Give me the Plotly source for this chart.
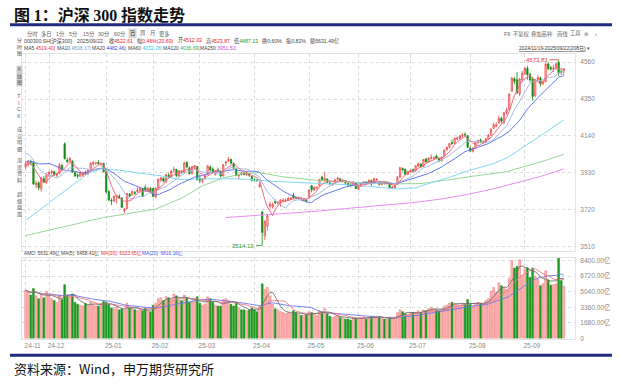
import pandas as pd
import plotly.graph_objects as go

W, H = 623, 385
FONT = "Liberation Sans, Noto Sans CJK SC, sans-serif"
CJK = "Noto Sans CJK SC"

# ---------------- data ----------------
holidays = ["2025-01-01", "2025-01-28", "2025-01-29", "2025-01-30", "2025-01-31",
            "2025-02-03", "2025-02-04", "2025-04-04", "2025-05-01", "2025-05-02",
            "2025-05-05", "2025-06-02"]
dates = [d.strftime("%Y-%m-%d") for d in pd.bdate_range("2024-11-19", "2025-09-22")
         if d.strftime("%Y-%m-%d") not in holidays]

opens = [
    3962, 3975, 3994, 3988, 3860, 3872, 3838, 3895, 3872,
    3915, 3930, 3935, 3915, 3925, 3970, 4095, 4002, 3992, 3995, 3930, 3915, 3910, 3915, 3930, 3925, 3945, 3980, 3985, 3988, 3978, 3982,
    3935, 3822, 3772, 3768, 3792, 3795, 3785, 3712, 3725, 3808, 3806, 3815, 3822, 3830, 3838, 3845, 3828, 3840,
    3840, 3792, 3838, 3888, 3898, 3880, 3915, 3905, 3945, 3948, 3910, 3938, 3930, 3988, 3958, 3925, 3962, 3965,
    3895, 3880, 3898, 3920, 3962, 3950, 3920, 3945, 3938, 3912, 3985, 3995, 4005, 3982, 3950, 3912, 3925, 3922, 3918, 3925, 3908,
    3890, 3890, 3850, 3705, 3570, 3625, 3740, 3735, 3765, 3755, 3755, 3770, 3770, 3772, 3782, 3800, 3788, 3782, 3784, 3772, 3775,
    3790, 3855, 3832, 3842, 3855, 3905, 3885, 3892, 3872, 3862, 3870, 3892, 3895, 3880, 3880, 3868, 3860, 3858, 3870,
    3835, 3852, 3868, 3876, 3878, 3885, 3868, 3890, 3875, 3862, 3875, 3868, 3872, 3845, 3842, 3865, 3905, 3955, 3948, 3920,
    3935, 3948, 3940, 3968, 3978, 3965, 4008, 3990, 4012, 4010, 4025, 4012, 3998, 4022, 4062, 4075, 4102, 4098, 4122, 4125, 4140, 4148, 4140,
    4070, 4052, 4072, 4102, 4115, 4102, 4105, 4122, 4148, 4182, 4195, 4215, 4240, 4218, 4270, 4288, 4395, 4465, 4460, 4380, 4460,
    4495, 4525, 4492, 4465, 4370, 4462, 4470, 4440, 4450, 4550, 4528, 4522, 4528, 4560, 4505, 4512.03,
]
highs = [
    3990, 4000, 4005, 3995, 3885, 3880, 3905, 3910, 3925,
    3940, 3945, 3940, 3930, 3985, 3980, 4102, 4015, 4020, 4000, 3940, 3925, 3935, 3935, 3942, 3950, 3988, 3995, 3992, 4002, 3990, 3988,
    3940, 3832, 3785, 3800, 3805, 3808, 3790, 3728, 3815, 3815, 3828, 3825, 3845, 3848, 3840, 3862, 3848, 3850,
    3842, 3845, 3895, 3905, 3902, 3922, 3928, 3945, 3965, 3952, 3945, 3945, 3992, 3995, 3965, 3968, 3975, 3968,
    3915, 3898, 3918, 3975, 3970, 3960, 3945, 3958, 3942, 3980, 3998, 4020, 4010, 3990, 3955, 3925, 3932, 3935, 3938, 3930, 3912,
    3900, 3895, 3875, 3712, 3660, 3695, 3765, 3760, 3778, 3768, 3780, 3785, 3782, 3790, 3792, 3815, 3795, 3795, 3790, 3782, 3780,
    3835, 3858, 3852, 3852, 3895, 3912, 3935, 3898, 3880, 3872, 3892, 3905, 3898, 3895, 3885, 3872, 3868, 3882, 3872,
    3858, 3872, 3882, 3882, 3892, 3890, 3900, 3898, 3880, 3878, 3880, 3882, 3875, 3855, 3862, 3910, 3962, 3958, 3955, 3940,
    3948, 3952, 3972, 3988, 3985, 4008, 4015, 4018, 4035, 4022, 4035, 4018, 4022, 4062, 4080, 4100, 4120, 4130, 4135, 4145, 4155, 4160, 4145,
    4080, 4075, 4108, 4118, 4125, 4115, 4128, 4150, 4185, 4215, 4218, 4255, 4250, 4275, 4300, 4382, 4475, 4475, 4505, 4470, 4510,
    4532, 4540, 4500, 4475, 4465, 4488, 4478, 4460, 4555, 4560, 4540, 4545, 4558, 4573.83, 4520, 4523.87,
]
lows = [
    3950, 3965, 3972, 3860, 3840, 3830, 3822, 3872, 3868,
    3905, 3920, 3912, 3905, 3920, 3940, 4005, 3985, 3988, 3930, 3905, 3895, 3905, 3905, 3918, 3915, 3940, 3968, 3975, 3975, 3965, 3932,
    3810, 3768, 3745, 3762, 3755, 3780, 3728, 3700, 3722, 3790, 3798, 3805, 3815, 3822, 3790, 3826, 3822, 3812,
    3790, 3785, 3832, 3878, 3875, 3870, 3895, 3900, 3932, 3905, 3905, 3925, 3925, 3955, 3918, 3920, 3945, 3885,
    3870, 3870, 3890, 3918, 3935, 3925, 3912, 3932, 3902, 3908, 3970, 3990, 3978, 3950, 3910, 3892, 3915, 3915, 3910, 3905, 3880,
    3880, 3878, 3845, 3514.13, 3545, 3600, 3725, 3725, 3750, 3745, 3735, 3765, 3765, 3768, 3775, 3782, 3778, 3778, 3768, 3765, 3760,
    3788, 3818, 3825, 3835, 3850, 3880, 3880, 3870, 3860, 3855, 3865, 3885, 3878, 3875, 3862, 3850, 3850, 3855, 3835,
    3830, 3848, 3862, 3865, 3872, 3855, 3865, 3882, 3855, 3858, 3862, 3860, 3838, 3835, 3838, 3862, 3900, 3938, 3915, 3915,
    3928, 3930, 3935, 3960, 3958, 3962, 3988, 3985, 4005, 4005, 4008, 3990, 3995, 4018, 4055, 4068, 4088, 4092, 4115, 4118, 4130, 4135, 4070,
    4048, 4045, 4068, 4095, 4098, 4095, 4100, 4118, 4140, 4180, 4190, 4210, 4215, 4205, 4262, 4285, 4392, 4435, 4380, 4368, 4450,
    4485, 4460, 4448, 4340, 4360, 4450, 4420, 4428, 4445, 4515, 4510, 4505, 4515, 4480, 4488, 4487.13,
]
closes = [
    3981, 3997, 3990, 3866, 3870, 3844, 3900, 3878, 3916,
    3931, 3937, 3920, 3925, 3973, 3948, 4010, 3995, 4010, 3933, 3912, 3910, 3931, 3929, 3925, 3945, 3983, 3988, 3986, 3982, 3982, 3935,
    3821, 3775, 3769, 3796, 3797, 3785, 3732, 3722, 3812, 3796, 3823, 3813, 3830, 3841, 3794, 3831, 3841, 3817,
    3795, 3842, 3892, 3901, 3883, 3919, 3906, 3939, 3947, 3912, 3941, 3933, 3985, 3963, 3925, 3964, 3969, 3890,
    3888, 3895, 3913, 3968, 3945, 3935, 3942, 3941, 3910, 3975, 3990, 4007, 3984, 3955, 3914, 3920, 3923, 3920, 3930, 3915, 3887,
    3888, 3885, 3862, 3589, 3650, 3686, 3750, 3750, 3760, 3762, 3773, 3773, 3773, 3785, 3784, 3787, 3786, 3786, 3776, 3775, 3770,
    3831, 3833, 3846, 3846, 3891, 3890, 3897, 3875, 3868, 3868, 3889, 3900, 3882, 3883, 3870, 3860, 3855, 3876, 3840,
    3852, 3868, 3877, 3874, 3885, 3865, 3895, 3892, 3864, 3873, 3870, 3875, 3843, 3846, 3857, 3904, 3960, 3946, 3921, 3936,
    3943, 3943, 3969, 3982, 3965, 4005, 3991, 4013, 4014, 4017, 4014, 4000, 4019, 4058, 4073, 4096, 4095, 4127, 4127, 4139, 4145, 4146, 4075,
    4054, 4071, 4103, 4113, 4105, 4104, 4122, 4144, 4176, 4203, 4202, 4239, 4223, 4271, 4288, 4378, 4469, 4451, 4386, 4463, 4497,
    4524, 4490, 4459, 4365, 4460, 4472, 4437, 4447, 4549, 4522, 4523, 4527, 4551, 4499, 4501.92, 4522.61,
]
# turnover (亿元)
volumes = [
    5200, 5000, 4700, 5400, 4600, 4300, 4800, 4400, 5100,
    4700, 4300, 4100, 3900, 4700, 4200, 5800, 4600, 4500, 4800, 3900, 3700, 3600, 3500, 3800, 3600, 4000, 3700, 3500, 3500, 3800, 4000,
    3900, 3700, 3300, 3200, 3400, 3100, 3200, 3100, 3800, 3300, 3300, 3100, 3000, 3100, 3000, 3300, 3000, 2900,
    3600, 3800, 4300, 4400, 4100, 4500, 4400, 4200, 4800, 4600, 4200, 4100, 4700, 4400, 3900, 4000, 4100, 4500,
    3800, 3600, 3700, 4500, 4300, 3900, 3600, 3500, 3500, 4200, 4300, 4100, 3700, 3500, 3900, 3300, 3100, 3100, 3000, 3100, 3300,
    3100, 2900, 3500, 5900, 5300, 5500, 4600, 3700, 3200, 3100, 2900, 2800, 2700, 2800, 2700, 3000, 2800, 2600, 2500, 2500, 2600,
    2900, 2800, 2700, 2500, 3000, 2900, 3200, 2700, 2400, 2300, 2400, 2500, 2300, 2200, 2100, 2100, 2000, 2300, 2200,
    2200, 2200, 2300, 2100, 2300, 2400, 2400, 2300, 2400, 2200, 2100, 2100, 2300, 2200, 2200, 2800, 3100, 2900, 2700, 2600,
    2700, 2800, 2800, 3000, 2800, 3100, 3000, 3200, 3400, 3200, 3100, 3000, 3100, 3500, 3600, 3800, 3900, 3800, 3700, 3600, 3800, 3700, 4200,
    3700, 3500, 3800, 3900, 3800, 3700, 4100, 4300, 5100, 5500, 5000, 6000, 5700, 5500, 5300, 6500, 8400, 7600, 7800, 8500, 6800,
    7500, 7600, 6600, 7600, 6700, 6400, 5700, 5900, 7300, 6300, 5750, 5800, 5900, 8700, 6250, 5631.49,
]
# closes of the 19 sessions before the first bar (feed the MA5/10/20 lines at the left edge)
prior_closes = [3985, 3969, 3956, 3973, 3939, 3910, 3891, 3870, 3927, 4036,
                4058, 4100, 4104, 4097, 4065, 4067, 3996, 3969, 3972]

# long moving averages where the window reaches before the shown data
ma60_head_dates = ["2024-11-19", "2024-12-05", "2024-12-23", "2024-12-30", "2025-01-09", "2025-01-22", "2025-02-10"]
ma60_head_vals = [3658, 3790, 3925, 3952, 3944, 3925, 3912]
ma120_head_dates = ["2024-11-19", "2024-12-10", "2024-12-31", "2025-02-06", "2025-02-20", "2025-03-04",
                    "2025-03-14", "2025-03-26", "2025-04-03", "2025-04-16", "2025-04-25", "2025-05-09"]
ma120_head_vals = [3571, 3622, 3674, 3722, 3785, 3855, 3900, 3925, 3930, 3908, 3896, 3886]
ma250_dates = ["2025-03-17", "2025-04-03", "2025-04-16", "2025-05-07", "2025-05-26", "2025-06-13", "2025-07-02",
               "2025-07-17", "2025-07-31", "2025-08-14", "2025-08-26", "2025-09-09", "2025-09-22"]
ma250_vals = [3674, 3686, 3693, 3708, 3725, 3742, 3759, 3780, 3806, 3838, 3868, 3908, 3951.52]

price_ticks = [3510, 3720, 3930, 4140, 4350, 4560]
vol_ticks = [0, 1680, 3360, 5040, 6720, 8400]
vol_ticktext = ["0", "1680.00亿", "3360.00亿", "5040.00亿", "6720.00亿", "8400.00亿"]

n = len(dates)
assert n == 208 and all(len(a) == n for a in (opens, highs, lows, closes, volumes))

# ---------------- derived ----------------
full = pd.Series(prior_closes + closes, dtype=float)
k = len(prior_closes)
ma5 = full.rolling(5).mean().iloc[k:].tolist()
ma10 = full.rolling(10).mean().iloc[k:].tolist()
ma20 = full.rolling(20).mean().iloc[k:].tolist()
cs = pd.Series(closes, dtype=float)
ma60c = cs.rolling(60).mean().tolist()
ma120c = cs.rolling(120).mean().tolist()
ma60_x = ma60_head_dates + dates[59:]
ma60_y = ma60_head_vals + ma60c[59:]
ma120_x = ma120_head_dates + dates[119:]
ma120_y = ma120_head_vals + ma120c[119:]

vs = pd.Series(volumes, dtype=float)
vma5 = vs.rolling(5, min_periods=1).mean().tolist()
vma10 = vs.rolling(10, min_periods=1).mean().tolist()
vma20 = vs.rolling(20, min_periods=1).mean().tolist()

up = [c >= o for o, c in zip(opens, closes)]
vol_fill = ["#ffb8b8" if u else "#1d971d" for u in up]
vol_line = ["#f07070" if u else "#1d971d" for u in up]

tickvals, ticktext, seen = [], [], set()
for d in dates:
    key = d[2:7]
    if key not in seen:
        seen.add(key)
        tickvals.append(d)
        ticktext.append(key)

imax = max(range(n), key=lambda i: highs[i])
imin = min(range(n), key=lambda i: lows[i])

# ---------------- figure ----------------
fig = go.Figure()
fig.add_trace(go.Candlestick(
    x=dates, open=opens, high=highs, low=lows, close=closes,
    increasing=dict(line=dict(color="#ee4848", width=0.8), fillcolor="#ffd2d2"),
    decreasing=dict(line=dict(color="#138a13", width=0.8), fillcolor="#138a13"),
    whiskerwidth=0, xaxis="x", yaxis="y", showlegend=False, hoverinfo="skip"))

def line(x, y, color, ax="x", ay="y", w=1.0):
    fig.add_trace(go.Scatter(x=x, y=y, mode="lines", line=dict(color=color, width=w),
                             xaxis=ax, yaxis=ay, showlegend=False, hoverinfo="skip"))

line(ma250_dates, ma250_vals, "#e88cf2")
line(ma120_x, ma120_y, "#96d696")
line(ma60_x, ma60_y, "#80d9f2")
line(dates, ma20, "#6677ee")
line(dates, ma10, "#a7bcdc")
line(dates, ma5, "#f26a80")

fig.add_trace(go.Bar(x=dates, y=volumes, marker=dict(color=vol_fill, line=dict(color=vol_line, width=0.5)),
                     xaxis="x2", yaxis="y2", showlegend=False, hoverinfo="skip"))
line(dates, vma20, "#6a78f0", "x2", "y2", 0.9)
line(dates, vma10, "#f27a8c", "x2", "y2", 0.9)
line(dates, vma5, "#707070", "x2", "y2", 0.9)

XD = [22 / W, 575 / W]
XR = [-1.4, 211.3]
GRID = "#dadada"
TICKF = dict(size=6.5, color="#8a8a8a", family=FONT)

fig.update_layout(
    width=W, height=H, autosize=False,
    margin=dict(l=0, r=0, t=0, b=0),
    paper_bgcolor="white", plot_bgcolor="white",
    bargap=0.28, showlegend=False,
    xaxis=dict(domain=XD, anchor="y", type="category", range=XR, tickvals=tickvals,
               showticklabels=False, ticks="", showgrid=True, gridcolor=GRID, griddash="dot",
               showline=True, mirror=True, linecolor="#e4e4e4", zeroline=False,
               rangeslider=dict(visible=False), fixedrange=True),
    yaxis=dict(domain=[1 - 252 / H, 1 - 53 / H], anchor="x", side="right", range=[3484.7, 4605],
               tickvals=price_ticks, ticks="", tickfont=TICKF, ticklabelstandoff=3,
               showgrid=True, gridcolor=GRID, griddash="dot", zeroline=False,
               showline=True, mirror=True, linecolor="#e4e4e4"),
    xaxis2=dict(domain=XD, anchor="y2", type="category", range=XR, tickvals=tickvals, ticktext=ticktext,
                ticks="", tickfont=TICKF, ticklabelshift=7, ticklabelstandoff=1,
                showgrid=True, gridcolor=GRID, griddash="dot",
                showline=True, mirror=True, linecolor="#e4e4e4", zeroline=False),
    yaxis2=dict(domain=[1 - 341 / H, 1 - 259 / H], anchor="x2", side="right", range=[0, 8717],
                tickvals=vol_ticks, ticktext=vol_ticktext, ticks="", tickfont=TICKF, ticklabelstandoff=3,
                showgrid=True, gridcolor=GRID, griddash="dot", zeroline=False,
                showline=True, mirror=True, linecolor="#e4e4e4"),
)

anns = []

def A(x, y, text, size=6, color="#555", anchor="left", family=FONT, **kw):
    d = dict(xref="paper", yref="paper", x=x / W, y=1 - y / H, text=text, showarrow=False,
             xanchor=anchor, yanchor="middle", font=dict(size=size, color=color, family=family),
             borderpad=0)
    d.update(kw)
    anns.append(d)

# title and source
SER = "font-family:'Liberation Serif'"
A(13, 12, f'<b>图 <span style="{SER}">1</span>：沪深 <span style="{SER}">300</span> 指数走势</b>',
  size=16, color="#111", family=CJK)
A(13, 371, "资料来源：Wind，申万期货研究所", size=13, color="#111", family=CJK)

# toolbar
for t, x in [("分时", 26), ("多日", 40), ("1分", 55), ("5分", 68), ("15分", 82), ("30分", 97),
             ("60分", 113), ("周", 139), ("月", 149), ("更多", 158)]:
    A(x, 32, t, size=5.3, color="#666")
A(127.5, 32, "日", size=5.3, color="#333", bgcolor="#d6d6d6", borderpad=1)
for t, x in [("F9", 503), ("不复权", 512), ("叠加品种", 530), ("画线", 556), ("工具", 569), ("⚙", 583), ("›", 594)]:
    A(x, 32, t, size=5.3, color="#666")

# info row
RED, GRN = "#e8202a", "#1f9a2a"
info = [
    ("000300.SH[沪深300]", 23),
    ("2025/09/22", 76),
    (f'收<span style="color:{RED}">4522.61</span>', 108),
    (f'幅<span style="color:{RED}">0.46%(20.69)</span>', 136),
    (f'开<span style="color:{RED}">4512.03</span>', 177),
    (f'高<span style="color:{RED}">4523.87</span>', 205),
    (f'低<span style="color:{GRN}">4487.13</span>', 233),
    ("换0.60%", 261),
    ("振0.82%", 285),
    ("额5631.49亿", 309),
]
for t, x in info:
    A(x, 39.5, t, size=5.2, color="#444")

ma_row = [("MA5", "4519.40|", "#f0304a", 23), ("MA10", "4508.17|", "#6f9ad6", 56),
          ("MA20", "4482.46|", "#3347e6", 91), ("MA60", "4232.78|", "#2ec3e8", 127),
          ("MA120", "4036.69|", "#33a853", 162), ("MA250", "3951.52|", "#e040f0", 199)]
for lab, val, col, x in ma_row:
    A(x, 46.5, f'{lab} <span style="color:{col}">{val}</span>', size=5, color="#444")

A(518, 47.5, "<u>2024/11/19-2025/09/22(208日)</u>", size=4.9, color="#333")
A(585, 47.5, "▼", size=4.5, color="#555")

# sidebar
side = [("分<br>时<br>图", 46, None), ("K<br>线<br>图", 75, "#d0d0d0"), ("T<br>I<br>C<br>K", 105, None),
        ("成<br>交<br>明<br>细", 139, None), ("深<br>度<br>资<br>料", 171, None), ("超<br>级<br>盘<br>面", 205, None)]
for t, y, bg in side:
    kw = dict(bgcolor=bg) if bg else {}
    A(19, y, t, size=5, color="#555", anchor="center", **kw)

# volume row label
A(23, 255, "AMO: 5631.49亿 MA(5): 6458.41亿", size=4.8, color="#444")
A(100, 255, "MA(10): 6323.65亿", size=4.8, color="#e8303e")
A(141, 255, "MA(20): 6816.16亿", size=4.8, color="#4050f0")

# extreme labels
anns.append(dict(x=dates[imax], y=highs[imax], xref="x", yref="y", text=f"{highs[imax]:.2f}",
                 showarrow=True, arrowhead=0, arrowwidth=0.8, arrowcolor="#e84040", ax=-9, ay=0,
                 xanchor="right", font=dict(size=6, color="#e84040", family=FONT)))
anns.append(dict(x=dates[imin], y=lows[imin], xref="x", yref="y", text=f"{lows[imin]:.2f}",
                 showarrow=True, arrowhead=0, arrowwidth=0.8, arrowcolor="#2a9a2a", ax=-6, ay=0,
                 xanchor="right", font=dict(size=6, color="#2a9a2a", family=FONT)))

fig.update_layout(annotations=anns)

# blue rules
NAVY = "#1f2a80"
fig.update_layout(shapes=[
    dict(type="line", xref="paper", yref="paper", x0=10 / W, x1=612 / W, y0=1 - 23 / H, y1=1 - 23 / H,
         line=dict(color=NAVY, width=3)),
    dict(type="line", xref="paper", yref="paper", x0=10 / W, x1=612 / W, y0=1 - 358 / H, y1=1 - 358 / H,
         line=dict(color=NAVY, width=3)),
])

fig.write_html("out.html", config={"displayModeBar": False},
               post_script="document.body.style.margin='0';")
